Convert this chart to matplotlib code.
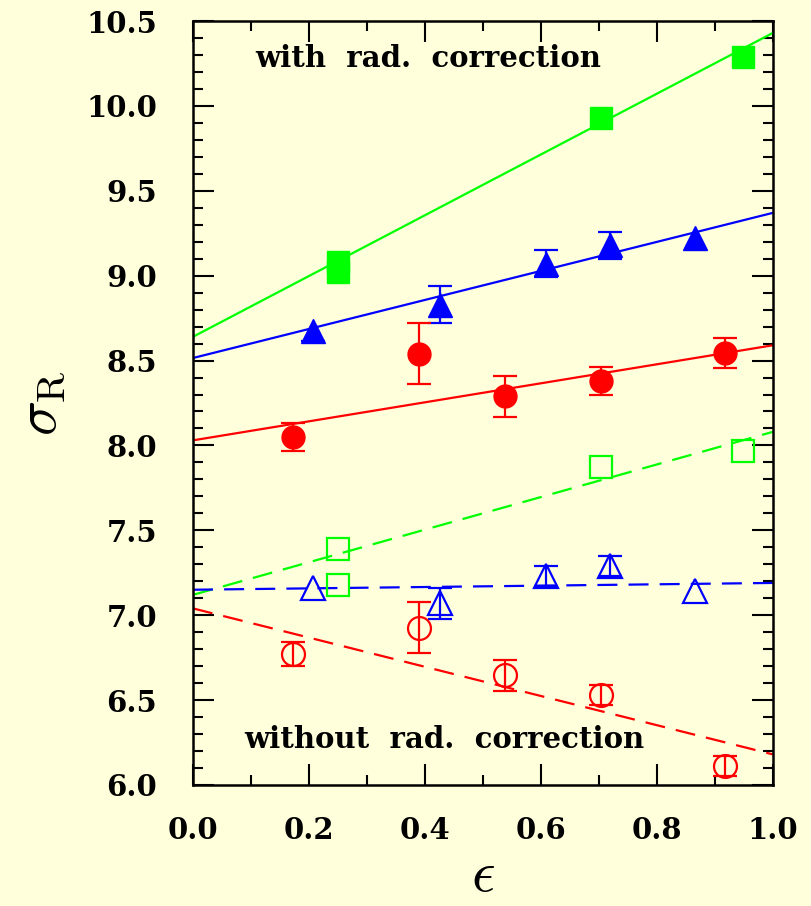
import numpy as np
import matplotlib
matplotlib.use("Agg")
import matplotlib.pyplot as plt
from matplotlib.ticker import MultipleLocator, FormatStrFormatter

plt.rcParams['mathtext.fontset'] = 'cm'
plt.rcParams['font.family'] = 'DejaVu Serif'

BG = '#ffffdc'
GREEN, BLUE, RED = '#00ff00', '#0000ff', '#ff0000'

# with radiative correction (filled symbols)
eps_sq = [0.25, 0.25, 0.703, 0.949]
sig_sq = [9.08, 9.02, 9.93, 10.29]

eps_tri = [0.207, 0.426, 0.609, 0.719, 0.866]
sig_tri = [8.675, 8.83, 9.07, 9.18, 9.22]
err_tri_lo = [0.06, 0.11, 0.08, 0.08, np.nan]
err_tri_hi = [np.nan, 0.11, 0.08, 0.08, np.nan]

eps_circ = [0.172, 0.390, 0.538, 0.703, 0.918]
sig_circ = [8.05, 8.54, 8.29, 8.38, 8.545]
err_circ = [0.08, 0.18, 0.12, 0.08, 0.09]

# without radiative correction (open symbols)
sig_sq_nr = [7.39, 7.18, 7.87, 7.97]

sig_tri_nr = [7.16, 7.07, 7.23, 7.29, 7.14]
err_tri_nr = [np.nan, 0.09, 0.06, 0.06, np.nan]

sig_circ_nr = [6.77, 6.925, 6.645, 6.53, 6.11]
err_circ_nr = [0.07, 0.15, 0.09, 0.06, 0.06]

# straight-line fits: (intercept, slope)
fit_sq = (8.64, 1.79)
fit_tri = (8.515, 0.855)
fit_circ = (8.03, 0.56)
fit_sq_nr = (7.12, 0.96)
fit_tri_nr = (7.15, 0.04)
fit_circ_nr = (7.04, -0.86)

fig = plt.figure(figsize=(8.11, 9.06), dpi=100, facecolor=BG)
ax = fig.add_axes([0.238, 0.1336, 0.715, 0.8432])
ax.set_facecolor(BG)

xx = np.array([0.0, 1.0])
for (a, b), c in [(fit_sq, GREEN), (fit_tri, BLUE), (fit_circ, RED)]:
    ax.plot(xx, a + b * xx, color=c, lw=1.6)
for (a, b), c in [(fit_sq_nr, GREEN), (fit_tri_nr, BLUE), (fit_circ_nr, RED)]:
    ax.plot(xx, a + b * xx, color=c, lw=1.6, dashes=[9, 5])

ekw = dict(linestyle='none', capsize=8.5, elinewidth=1.6, capthick=1.6)
ax.errorbar(eps_sq, sig_sq, fmt='s', ms=16, color=GREEN, **ekw)
ax.errorbar(eps_tri, sig_tri, yerr=[err_tri_lo, err_tri_hi], fmt='^', ms=17,
            color=BLUE, **ekw)
ax.errorbar(eps_circ, sig_circ, yerr=err_circ, fmt='o', ms=16.5, color=RED, **ekw)

ax.errorbar(eps_sq, sig_sq_nr, fmt='s', ms=16, color=GREEN, mfc='none', mew=1.6, **ekw)
ax.errorbar(eps_tri, sig_tri_nr, yerr=err_tri_nr, fmt='^', ms=17, color=BLUE,
            mfc='none', mew=1.6, **ekw)
ax.errorbar(eps_circ, sig_circ_nr, yerr=err_circ_nr, fmt='o', ms=16.5, color=RED,
            mfc='none', mew=1.6, **ekw)

ax.set_xlim(0, 1)
ax.set_ylim(6.0, 10.5)
ax.xaxis.set_major_locator(MultipleLocator(0.2))
ax.xaxis.set_minor_locator(MultipleLocator(0.1))
ax.yaxis.set_major_locator(MultipleLocator(0.5))
ax.yaxis.set_minor_locator(MultipleLocator(0.1))
ax.tick_params(which='both', direction='in', top=True, right=True, width=1.5)
ax.tick_params(which='major', length=15, labelsize=21)
ax.tick_params(axis='x', which='major', pad=22)
ax.tick_params(axis='y', which='major', pad=26)
ax.tick_params(which='minor', length=7.5)
ax.xaxis.set_major_formatter(FormatStrFormatter('%.1f'))
ax.yaxis.set_major_formatter(FormatStrFormatter('%.1f'))
for lab in ax.get_xticklabels() + ax.get_yticklabels():
    lab.set_fontweight('bold')
for s in ax.spines.values():
    s.set_linewidth(1.8)

ax.text(0.405, 10.28, 'with  rad.  correction', fontsize=21, fontweight='bold',
        ha='center', va='center')
ax.text(0.434, 6.27, 'without  rad.  correction', fontsize=21, fontweight='bold',
        ha='center', va='center')

ax.set_xlabel(r'$\epsilon$', fontsize=42, labelpad=2)
ax.set_ylabel(r'$\sigma_{\rm R}$', fontsize=42, labelpad=14)

fig.savefig('out.png', dpi=100, facecolor=BG)
